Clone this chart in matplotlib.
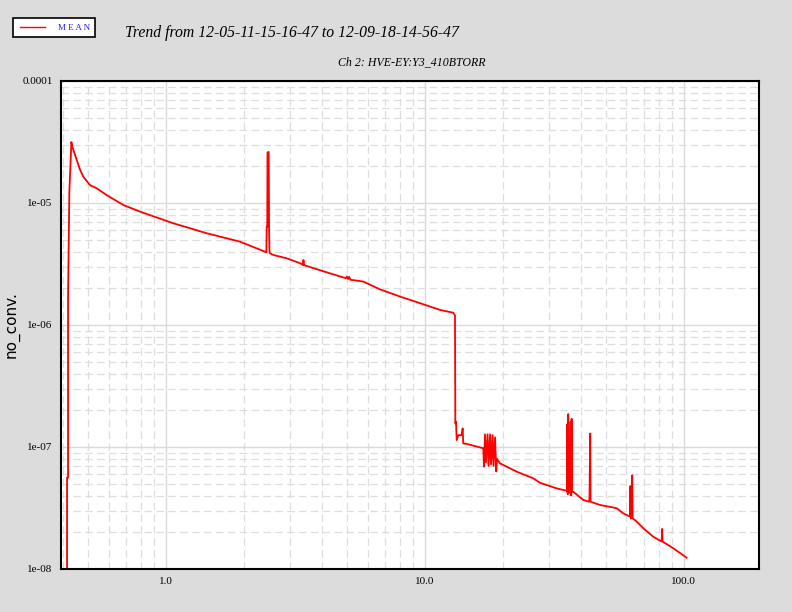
import matplotlib
matplotlib.use('Agg')
import matplotlib.pyplot as plt
from matplotlib.ticker import FixedLocator, LogLocator, NullFormatter
from matplotlib.lines import Line2D
from matplotlib.patches import Rectangle

# trend data (x in days, y in torr)
days = [
    0.4148, 0.4148, 0.4184, 0.4184, 0.4233, 0.4286, 0.4309, 0.4347, 0.4520, 0.4656,
    0.4795, 0.5087, 0.5401, 0.5902, 0.6841, 0.7936, 1.067, 1.436, 1.931, 2.411,
    2.440, 2.448, 2.460, 2.465, 2.480, 2.492, 2.500, 2.510, 2.520, 2.596,
    2.924, 3.291, 3.389, 3.395, 3.401, 4.298, 4.95, 5.00, 5.05, 5.10,
    5.15, 5.778, 6.704, 8.009, 9.566, 11.43, 12.86, 13.06, 13.10, 13.18,
    13.26, 13.45, 13.86, 13.98, 14.06, 14.49, 16.80,
    16.90, 17.05, 17.20, 17.45, 17.60, 17.85, 18.00, 18.25, 18.40, 18.65, 18.85, 18.97,
    19.48, 22.60, 26.19, 27.80, 32.25, 35.25,
    35.40, 35.44, 35.60, 35.75, 36.00, 36.30, 36.53, 36.70, 36.85, 37.00,
    37.38, 40.86, 43.10, 43.20, 43.48, 43.60, 47.39, 54.99, 58.31, 61.89,
    62.06, 62.40, 63.17, 63.40, 65.70, 69.65, 76.12, 82.02, 82.46, 82.70,
    90.94, 102.4,
]
pressure = [
    1.0e-8, 5.6e-8, 5.6e-8, 1.66e-6, 1.24e-5, 2.34e-5, 3.16e-5, 2.89e-5, 2.25e-5, 1.87e-5,
    1.64e-5, 1.40e-5, 1.32e-5, 1.16e-5, 9.63e-6, 8.49e-6, 6.82e-6, 5.65e-6, 4.82e-6, 3.99e-6,
    3.95e-6, 6.40e-6, 6.40e-6, 2.58e-5, 2.62e-5, 2.62e-5, 6.0e-6, 4.0e-6, 3.87e-6, 3.75e-6,
    3.52e-6, 3.21e-6, 3.10e-6, 3.41e-6, 3.10e-6, 2.65e-6, 2.42e-6, 2.50e-6, 2.38e-6, 2.48e-6,
    2.35e-6, 2.27e-6, 1.96e-6, 1.71e-6, 1.51e-6, 1.33e-6, 1.26e-6, 1.20e-6, 1.56e-7, 1.61e-7,
    1.14e-7, 1.25e-7, 1.25e-7, 1.42e-7, 1.07e-7, 1.06e-7, 9.76e-8,
    6.9e-8, 1.27e-7, 7.5e-8, 1.27e-7, 7.0e-8, 1.27e-7, 7.2e-8, 1.25e-7, 7.0e-8, 1.2e-7, 6.3e-8, 8.0e-8,
    7.35e-8, 6.28e-8, 5.54e-8, 5.09e-8, 4.58e-8, 4.38e-8,
    4.3e-8, 1.54e-7, 4.1e-8, 1.86e-7, 4.2e-8, 4.3e-8, 1.61e-7, 4.0e-8, 1.70e-7, 4.3e-8,
    4.30e-8, 3.68e-8, 3.56e-8, 4.0e-8, 1.29e-7, 3.56e-8, 3.35e-8, 3.15e-8, 2.86e-8, 2.69e-8,
    4.79e-8, 2.6e-8, 5.86e-8, 2.6e-8, 2.45e-8, 2.16e-8, 1.84e-8, 1.68e-8, 2.13e-8, 1.68e-8,
    1.48e-8, 1.24e-8,
]

x_major = [1.0, 10.0, 100.0]
x_labels = ['1.0', '10.0', '100.0']
y_major = [1e-8, 1e-7, 1e-6, 1e-5, 1e-4]
y_labels = ['1e-08', '1e-07', '1e-06', '1e-05', '0.0001']

title = 'Trend from 12-05-11-15-16-47 to 12-09-18-14-56-47'
subtitle = 'Ch 2: HVE-EY:Y3_410BTORR'
legend_name = 'MEAN'

serif = 'Liberation Serif'

fig = plt.figure(figsize=(7.92, 6.12), dpi=100)
fig.patch.set_facecolor('#dcdcdc')
ax = fig.add_axes([61 / 792, 43 / 612, 698 / 792, 488 / 612])
ax.set_facecolor('white')

ax.plot(days, pressure, color='red', lw=1.3)

ax.set_xscale('log')
ax.set_yscale('log')
ax.set_xlim(0.393, 195)
ax.set_ylim(1e-8, 1e-4)

ax.xaxis.set_major_locator(FixedLocator(x_major))
ax.set_xticklabels(x_labels)
ax.yaxis.set_major_locator(FixedLocator(y_major))
ax.set_yticklabels(y_labels)
ax.xaxis.set_minor_locator(LogLocator(base=10, subs=range(2, 10), numticks=20))
ax.yaxis.set_minor_locator(LogLocator(base=10, subs=range(2, 10), numticks=20))
ax.xaxis.set_minor_formatter(NullFormatter())
ax.yaxis.set_minor_formatter(NullFormatter())
ax.tick_params(which='both', length=0)
ax.tick_params(axis='x', pad=6)
ax.tick_params(axis='y', pad=6)
for lab in ax.get_xticklabels() + ax.get_yticklabels():
    lab.set_fontfamily(serif)
    lab.set_fontsize(8)

ax.grid(which='major', color='#dadada', lw=1.0, ls='-')
ax.grid(which='minor', color='#dedede', lw=0.9, ls=(0, (6, 3.5)))
ax.set_axisbelow(True)
for sp in ax.spines.values():
    sp.set_linewidth(1.5)
    sp.set_color('black')

ax.set_ylabel('no_conv.', fontsize=11, family='DejaVu Sans')
ax.yaxis.set_label_coords(-41 / 698, 0.5)

fig.text(292 / 792, 1 - 33 / 612, title, ha='center', va='center',
         family=serif, style='italic', fontsize=11.3)
fig.text(412 / 792, 1 - 62 / 612, subtitle, ha='center', va='center',
         family=serif, style='italic', fontsize=8.6)

# legend box in the upper left corner
fig.patches.append(Rectangle((13 / 792, 1 - 37 / 612), 82 / 792, 19 / 612,
                             transform=fig.transFigure, facecolor='white',
                             edgecolor='black', lw=1.2))
fig.lines.append(Line2D([20 / 792, 45 / 792], [1 - 27 / 612, 1 - 27 / 612],
                        transform=fig.transFigure, color='red', lw=1))
fig.text(74 / 792, 1 - 28 / 612, ' '.join(legend_name), ha='center', va='center',
         family=serif, fontsize=6.5, color='#2020ff')

fig.savefig('out.png', dpi=100, facecolor=fig.get_facecolor())
